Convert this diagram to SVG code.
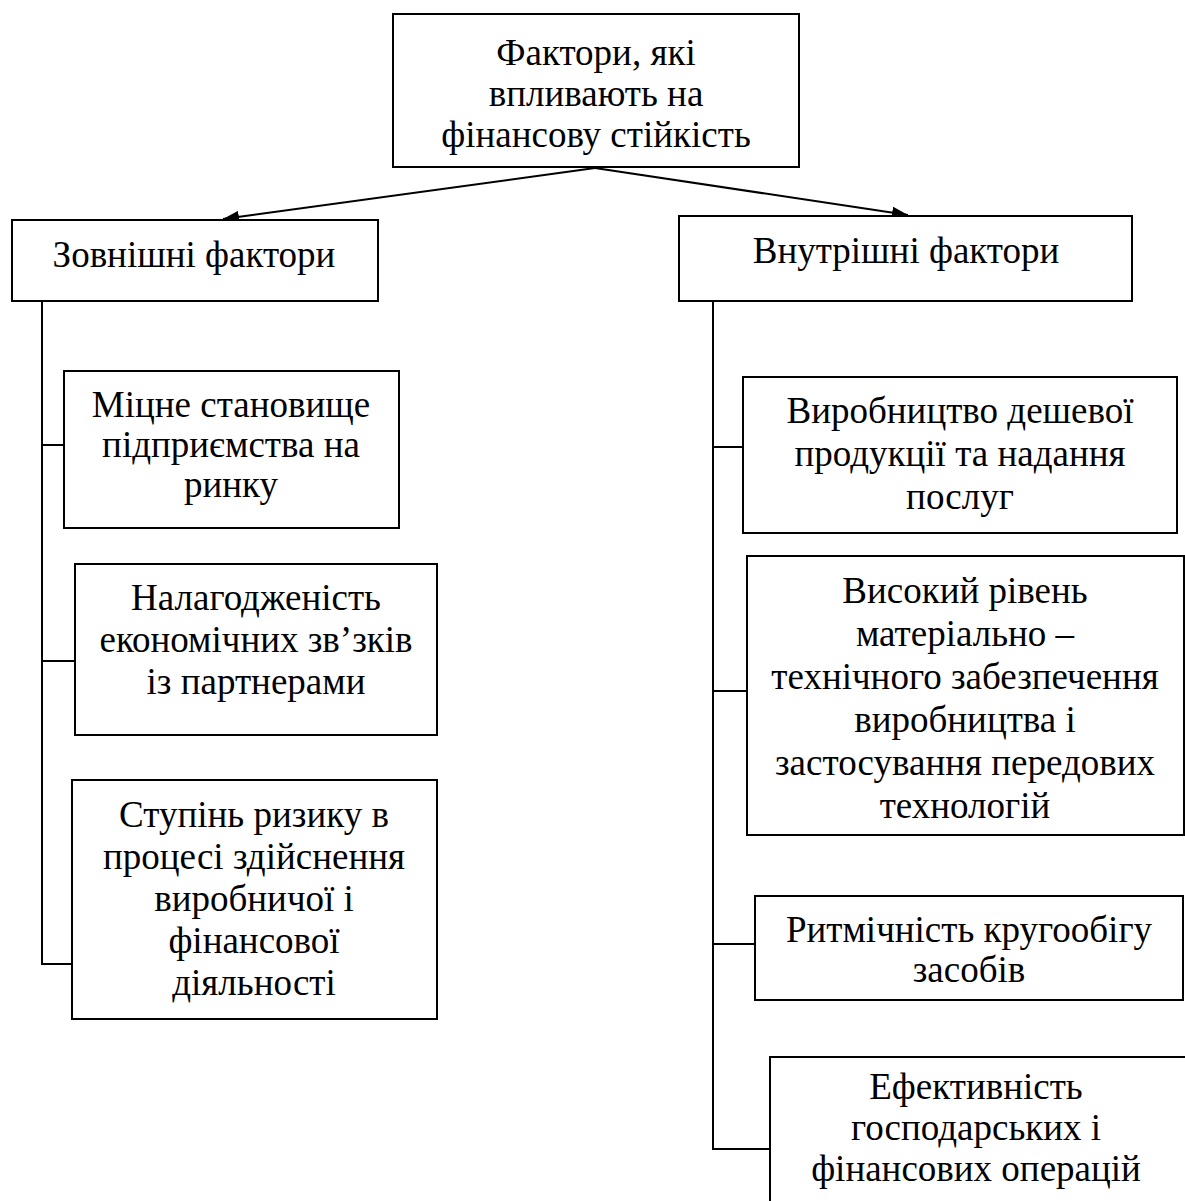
<svg xmlns="http://www.w3.org/2000/svg" width="1185" height="1201" viewBox="0 0 1185 1201">
<style>
.box{fill:#fff;stroke:#000;stroke-width:2}
.c{fill:none;stroke:#000;stroke-width:2}
text{font-family:'Liberation Serif','Times New Roman',serif;font-size:37px;fill:#000;text-anchor:middle}
</style>
<defs>
<marker id="ah" viewBox="0 0 16 12" refX="16" refY="6" markerWidth="16" markerHeight="12" markerUnits="userSpaceOnUse" orient="auto">
<path d="M0,0 L16,6 L0,12 Z" fill="#000"/>
</marker>
</defs>
<rect width="1185" height="1201" fill="#fff"/>
<g id="connectors">
<line class="c" x1="595" y1="168" x2="223" y2="219" marker-end="url(#ah)"/>
<line class="c" x1="595" y1="168" x2="908" y2="215" marker-end="url(#ah)"/>
<polyline class="c" points="42,301 42,964 72,964"/>
<line class="c" x1="42" y1="445" x2="64" y2="445"/>
<line class="c" x1="42" y1="661" x2="75" y2="661"/>
<polyline class="c" points="713,297 713,1149 770,1149"/>
<line class="c" x1="713" y1="447" x2="743" y2="447"/>
<line class="c" x1="713" y1="691" x2="747" y2="691"/>
<line class="c" x1="713" y1="944" x2="755" y2="944"/>
</g>
<g id="root">
<rect class="box" x="393" y="14" width="406" height="153"/>
<text x="596" y="65">Фактори, які</text>
<text x="596" y="106">впливають на</text>
<text x="596" y="147">фінансову стійкість</text>
</g>
<g id="external">
<rect class="box" x="12" y="220" width="366" height="81"/>
<text x="194" y="267">Зовнішні фактори</text>
</g>
<g id="internal">
<rect class="box" x="679" y="216" width="453" height="85"/>
<text x="906" y="263">Внутрішні фактори</text>
</g>
<g id="ext1">
<rect class="box" x="64" y="371" width="335" height="157"/>
<text x="231" y="417">Міцне становище</text>
<text x="231" y="457">підприємства на</text>
<text x="231" y="497">ринку</text>
</g>
<g id="ext2">
<rect class="box" x="75" y="564" width="362" height="171"/>
<text x="256" y="610">Налагодженість</text>
<text x="256" y="652">економічних зв’зків</text>
<text x="256" y="694">із партнерами</text>
</g>
<g id="ext3">
<rect class="box" x="72" y="780" width="365" height="239"/>
<text x="254" y="827">Ступінь ризику в</text>
<text x="254" y="869">процесі здійснення</text>
<text x="254" y="911">виробничої і</text>
<text x="254" y="953">фінансової</text>
<text x="254" y="995">діяльності</text>
</g>
<g id="int1">
<rect class="box" x="743" y="377" width="434" height="156"/>
<text x="960" y="423">Виробництво дешевої</text>
<text x="960" y="466">продукції та надання</text>
<text x="960" y="509">послуг</text>
</g>
<g id="int2">
<rect class="box" x="747" y="556" width="437" height="279"/>
<text x="965" y="603">Високий рівень</text>
<text x="965" y="646">матеріально –</text>
<text x="965" y="689">технічного забезпечення</text>
<text x="965" y="732">виробництва і</text>
<text x="965" y="775">застосування передових</text>
<text x="965" y="818">технологій</text>
</g>
<g id="int3">
<rect class="box" x="755" y="896" width="428" height="104"/>
<text x="969" y="942">Ритмічність кругообігу</text>
<text x="969" y="982">засобів</text>
</g>
<g id="int4">
<rect class="box" x="770" y="1057" width="430" height="160"/>
<text x="976" y="1099">Ефективність</text>
<text x="976" y="1140">господарських і</text>
<text x="976" y="1181">фінансових операцій</text>
</g>
</svg>
